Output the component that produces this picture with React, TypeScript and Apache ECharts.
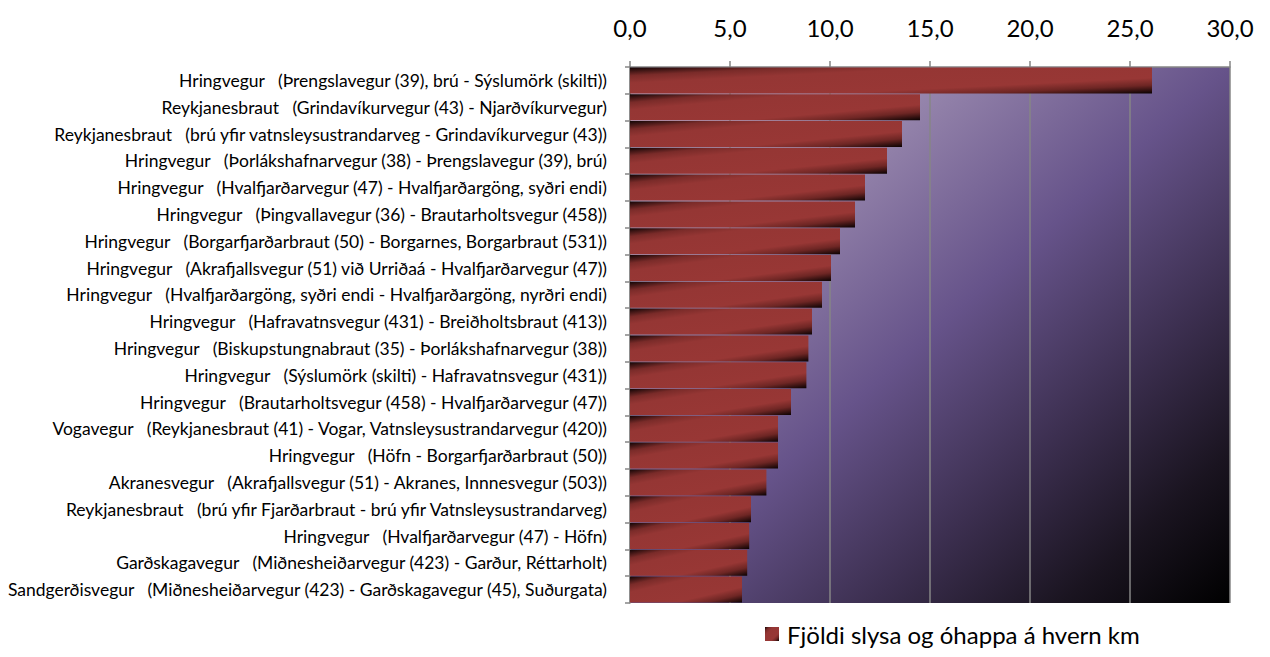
import React, { useEffect, useRef } from "react";
import * as echarts from "echarts";

const categories: string[] = [
  "Hringvegur   (Þrengslavegur (39), brú - Sýslumörk (skilti))",
  "Reykjanesbraut   (Grindavíkurvegur (43) - Njarðvíkurvegur)",
  "Reykjanesbraut   (brú yfir vatnsleysustrandarveg - Grindavíkurvegur (43))",
  "Hringvegur   (Þorlákshafnarvegur (38) - Þrengslavegur (39), brú)",
  "Hringvegur   (Hvalfjarðarvegur (47) - Hvalfjarðargöng, syðri endi)",
  "Hringvegur   (Þingvallavegur (36) - Brautarholtsvegur (458))",
  "Hringvegur   (Borgarfjarðarbraut (50) - Borgarnes, Borgarbraut (531))",
  "Hringvegur   (Akrafjallsvegur (51) við Urriðaá - Hvalfjarðarvegur (47))",
  "Hringvegur   (Hvalfjarðargöng, syðri endi - Hvalfjarðargöng, nyrðri endi)",
  "Hringvegur   (Hafravatnsvegur (431) - Breiðholtsbraut (413))",
  "Hringvegur   (Biskupstungnabraut (35) - Þorlákshafnarvegur (38))",
  "Hringvegur   (Sýslumörk (skilti) - Hafravatnsvegur (431))",
  "Hringvegur   (Brautarholtsvegur (458) - Hvalfjarðarvegur (47))",
  "Vogavegur   (Reykjanesbraut (41) - Vogar, Vatnsleysustrandarvegur (420))",
  "Hringvegur   (Höfn - Borgarfjarðarbraut (50))",
  "Akranesvegur   (Akrafjallsvegur (51) - Akranes, Innnesvegur (503))",
  "Reykjanesbraut   (brú yfir Fjarðarbraut - brú yfir Vatnsleysustrandarveg)",
  "Hringvegur   (Hvalfjarðarvegur (47) - Höfn)",
  "Garðskagavegur   (Miðnesheiðarvegur (423) - Garður, Réttarholt)",
  "Sandgerðisvegur   (Miðnesheiðarvegur (423) - Garðskagavegur (45), Suðurgata)",
];

const values: number[] = [
  26.1, 14.5, 13.6, 12.85, 11.75, 11.25, 10.5, 10.05, 9.6, 9.1,
  8.92, 8.82, 8.05, 7.4, 7.4, 6.82, 6.05, 5.96, 5.86, 5.6,
];

const seriesName = "Fjöldi slysa og óhappa á hvern km";
const xMin = 0;
const xMax = 30;
const xInterval = 5;

export default function App() {
  const ref = useRef<HTMLDivElement>(null);

  useEffect(() => {
    document.body.style.margin = "0";
    if (!ref.current) return;
    const chart = echarts.init(ref.current, null, { renderer: "svg" });
    const font = "Lato, 'Open Sans', sans-serif";
    const barGradient = {
      type: "linear",
      x: 0,
      y: 0,
      x2: 1,
      y2: 1,
      colorStops: [
        { offset: 0, color: "#120505" },
        { offset: 0.16, color: "#7a2b29" },
        { offset: 0.3, color: "#953634" },
        { offset: 0.7, color: "#983735" },
        { offset: 0.84, color: "#6e2624" },
        { offset: 1, color: "#0a0202" },
      ],
    };
    chart.setOption({
      animation: false,
      backgroundColor: "#ffffff",
      textStyle: { fontFamily: font },
      grid: {
        left: 630,
        right: 40,
        top: 67,
        bottom: 54,
        show: true,
        borderWidth: 0,
        backgroundColor: {
          type: "linear",
          x: 0,
          y: 0,
          x2: 1,
          y2: 1,
          colorStops: [
            { offset: 0, color: "#c0b0d0" },
            { offset: 0.2, color: "#a494b6" },
            { offset: 0.5, color: "#66538a" },
            { offset: 0.7, color: "#3c2f50" },
            { offset: 0.86, color: "#1a1420" },
            { offset: 1, color: "#000000" },
          ],
        },
      },
      legend: {
        show: true,
        data: [seriesName],
        left: 765,
        top: 622,
        padding: 0,
        itemWidth: 14,
        itemHeight: 14,
        itemGap: 4,
        textStyle: { fontFamily: font, fontSize: 24, color: "#000000", padding: [0, 0, 0, 3] },
        icon: "rect",
      },
      xAxis: {
        type: "value",
        position: "top",
        min: xMin,
        max: xMax,
        interval: xInterval,
        axisLine: { show: true, lineStyle: { color: "#868686", width: 1.5 } },
        axisTick: { show: true, length: 6, lineStyle: { color: "#868686", width: 1.5 } },
        splitLine: { show: true, lineStyle: { color: "#868686", width: 1.5 } },
        axisLabel: {
          fontFamily: font,
          fontSize: 24,
          color: "#000000",
          margin: 28,
          formatter: (v: number) => v.toFixed(1).replace(".", ","),
        },
      },
      yAxis: {
        type: "category",
        inverse: true,
        data: categories,
        axisLine: { show: true, lineStyle: { color: "#868686", width: 1.5 } },
        axisTick: { show: true, length: 5, lineStyle: { color: "#868686", width: 1.5 } },
        splitLine: { show: false },
        axisLabel: {
          fontFamily: font,
          fontSize: 17.5,
          color: "#000000",
          margin: 23,
          interval: 0,
        },
      },
      series: [
        {
          name: seriesName,
          type: "bar",
          data: values,
          barCategoryGap: "3%",
          itemStyle: { color: barGradient },
        },
      ],
    });
    return () => chart.dispose();
  }, []);

  return <div ref={ref} style={{ width: 1270, height: 657 }} />;
}
